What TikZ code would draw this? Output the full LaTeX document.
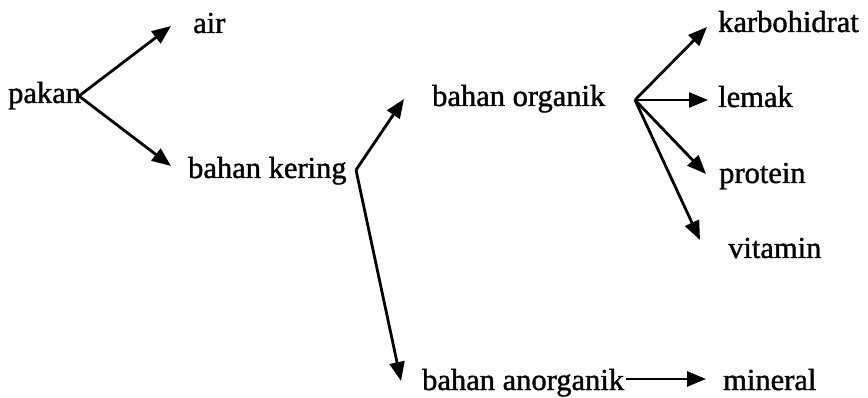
\documentclass[tikz,border=0pt]{standalone}
\usepackage{fontspec}
\setmainfont{Liberation Serif}
\newfontfamily\heavyserif{Liberation Serif}[FakeBold=1.2]
\usetikzlibrary{arrows.meta}
\begin{document}
\begin{tikzpicture}[x=1pt,y=-1pt,
  lbl/.style={anchor=base west,inner sep=0pt,font=\heavyserif\fontsize{30.5}{36}\selectfont},
  arr/.style={line width=2.8pt,-{Triangle[length=19pt,width=15pt]}}]
\useasboundingbox (0,0) rectangle (868,398);
% text nodes
\node[lbl] (pakan) at (8,103) {pakan};
\node[lbl] (air) at (193,33) {air};
\node[lbl] (kering) at (188,178) {bahan kering};
\node[lbl] (organik) at (432,106) {bahan organik};
\node[lbl] (anorganik) at (422,390) {bahan anorganik};
\node[lbl] (mineral) at (723,390) {mineral};
\node[lbl] (karbo) at (718,32) {karbohidrat};
\node[lbl] (lemak) at (718,107) {lemak};
\node[lbl] (protein) at (719,183) {protein};
\node[lbl] (vitamin) at (728,258) {vitamin};
% connector ends
\coordinate (pakanhub) at (79,96);
\coordinate (keringhub) at (356,170);
\coordinate (organikhub) at (635,100);
\coordinate (anorganikout) at (626,379);
\coordinate (airin) at (171,26);
\coordinate (keringin) at (171,166);
\coordinate (organikin) at (404,99);
\coordinate (anorganikin) at (401,381);
\coordinate (karboin) at (707,27);
\coordinate (lemakin) at (708,100);
\coordinate (proteinin) at (706,174);
\coordinate (vitaminin) at (700,240);
\coordinate (mineralin) at (706,379);
% connectors
\draw[arr] (pakanhub) -- (airin);
\draw[arr] (pakanhub) -- (keringin);
\draw[arr] (keringhub) -- (organikin);
\draw[arr] (keringhub) -- (anorganikin);
\draw[arr] (organikhub) -- (karboin);
\draw[arr] (organikhub) -- (lemakin);
\draw[arr] (organikhub) -- (proteinin);
\draw[arr] (organikhub) -- (vitaminin);
\draw[arr] (anorganikout) -- (mineralin);
\end{tikzpicture}
\end{document}
